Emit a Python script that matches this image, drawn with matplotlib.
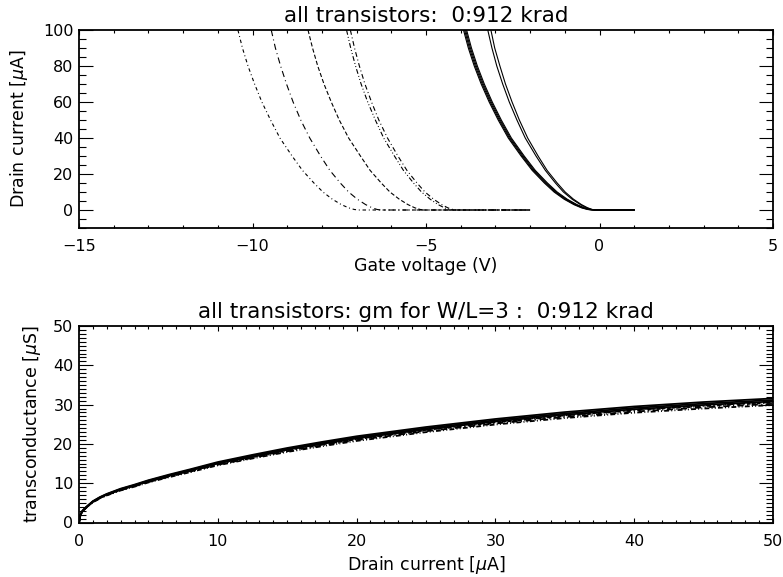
import matplotlib
matplotlib.use("Agg")
import matplotlib.pyplot as plt
from matplotlib.ticker import MultipleLocator

plt.rcParams['font.family'] = ['DejaVu Sans']
plt.rcParams['mathtext.fontset'] = 'dejavusans'
plt.rcParams['lines.scale_dashes'] = False

# ---------------- top panel data: drain current vs gate voltage ----------------
I_top = [100, 90, 80, 70, 60, 50, 40, 30, 22, 15, 10, 6, 3, 1.2, 0.3, 0, 0]

# solid curves (unirradiated); last point = end of sweep at +1 V
v_s1 = [-3.92, -3.78, -3.61, -3.41, -3.18, -2.92, -2.63, -2.26, -1.94, -1.59, -1.31, -1.02, -0.74, -0.52, -0.35, -0.22, 1.0]
v_s2 = [-3.89, -3.75, -3.58, -3.38, -3.15, -2.89, -2.60, -2.23, -1.91, -1.56, -1.28, -0.99, -0.71, -0.49, -0.32, -0.19, 1.0]
v_s3 = [-3.86, -3.72, -3.55, -3.35, -3.12, -2.86, -2.57, -2.20, -1.88, -1.53, -1.25, -0.96, -0.68, -0.46, -0.29, -0.16, 1.0]
v_s4 = [-3.83, -3.69, -3.52, -3.32, -3.09, -2.83, -2.54, -2.17, -1.85, -1.50, -1.22, -0.93, -0.65, -0.43, -0.26, -0.13, 1.0]
v_s5 = [-3.22, -3.10, -2.96, -2.79, -2.60, -2.38, -2.14, -1.83, -1.56, -1.27, -1.04, -0.79, -0.55, -0.37, -0.23, -0.12, 1.0]
v_s6 = [-3.13, -3.02, -2.87, -2.71, -2.52, -2.31, -2.07, -1.77, -1.51, -1.22, -0.99, -0.75, -0.52, -0.34, -0.21, -0.10, 1.0]

# broken-line curves (irradiated); last point = end of sweep at -2 V
v_a = [-10.42, -10.29, -10.13, -9.94, -9.73, -9.48, -9.21, -8.86, -8.56, -8.23, -7.97, -7.70, -7.44, -7.23, -7.07, -6.95, -2.0]
v_b = [-9.46, -9.34, -9.19, -9.02, -8.83, -8.61, -8.35, -8.04, -7.77, -7.47, -7.23, -6.98, -6.74, -6.55, -6.41, -6.30, -2.0]
v_c = [-8.40, -8.27, -8.12, -7.94, -7.73, -7.50, -7.23, -6.89, -6.61, -6.29, -6.04, -5.77, -5.52, -5.32, -5.17, -5.05, -2.0]
v_d = [-7.29, -7.17, -7.03, -6.87, -6.68, -6.46, -6.22, -5.91, -5.65, -5.36, -5.13, -4.88, -4.65, -4.47, -4.33, -4.22, -2.0]
v_e = [-7.18, -7.06, -6.92, -6.76, -6.57, -6.36, -6.11, -5.81, -5.55, -5.26, -5.03, -4.78, -4.55, -4.37, -4.23, -4.12, -2.0]

# ---------------- bottom panel data: transconductance vs drain current ----------------
I_bot = [0, 0.1, 0.25, 0.5, 1, 1.5, 2, 3, 4, 5, 6.5, 8, 10, 12.5, 15, 17.5, 20, 25, 30, 35, 40, 45, 50]
gm_s1 = [0, 1.95, 2.97, 3.90, 5.43, 6.46, 7.28, 8.61, 9.64, 10.76, 12.20, 13.53, 15.38, 17.22, 18.96, 20.50, 21.94, 24.29, 26.34, 28.09, 29.52, 30.65, 31.57]
gm_s2 = [0, 1.92, 2.93, 3.85, 5.36, 6.38, 7.19, 8.50, 9.51, 10.63, 12.04, 13.36, 15.18, 17.00, 18.72, 20.24, 21.66, 23.98, 26.01, 27.73, 29.15, 30.26, 31.17]
gm_s3 = [0, 1.90, 2.90, 3.80, 5.30, 6.30, 7.10, 8.40, 9.40, 10.50, 11.90, 13.20, 15.00, 16.80, 18.50, 20.00, 21.40, 23.70, 25.70, 27.40, 28.80, 29.90, 30.80]
gm_d1 = [0, 1.88, 2.87, 3.76, 5.25, 6.24, 7.03, 8.32, 9.31, 10.40, 11.78, 13.07, 14.85, 16.63, 18.32, 19.80, 21.19, 23.46, 25.44, 27.13, 28.51, 29.60, 30.49]
gm_d2 = [0, 1.86, 2.84, 3.72, 5.19, 6.17, 6.96, 8.23, 9.21, 10.29, 11.66, 12.94, 14.70, 16.46, 18.13, 19.60, 20.97, 23.23, 25.19, 26.85, 28.22, 29.30, 30.18]
gm_d3 = [0, 1.84, 2.81, 3.69, 5.14, 6.11, 6.89, 8.15, 9.12, 10.19, 11.54, 12.80, 14.55, 16.30, 17.95, 19.40, 20.76, 22.99, 24.93, 26.58, 27.94, 29.00, 29.88]
gm_d4 = [0, 1.89, 2.89, 3.78, 5.27, 6.27, 7.06, 8.36, 9.35, 10.45, 11.84, 13.13, 14.93, 16.72, 18.41, 19.90, 21.29, 23.58, 25.57, 27.26, 28.66, 29.75, 30.65]

title_top = "all transistors:  0:912 krad"
title_bot = "all transistors: gm for W/L=3 :  0:912 krad"

# line styles (absolute dash lengths in points)
ls_a = (0, (2.5, 2.0, 0.7, 2.0))
ls_b = (0, (4.5, 2.5, 0.7, 2.5))
ls_c = (0, (3.0, 1.6))
ls_d = (0, (3.5, 1.6, 0.7, 1.6, 0.7, 1.6))
ls_e = (0, (3.5, 2.0, 0.7, 2.0))

fig = plt.figure(figsize=(7.83, 5.77), dpi=100)
ax1 = fig.add_axes([79 / 783, 1 - 228 / 577, 694 / 783, 198 / 577])
ax2 = fig.add_axes([79 / 783, 1 - 522.5 / 577, 694 / 783, 196.5 / 577])

FS = 11.5
FL = 12.5
FT = 15.5
lwc = 0.8

for v in (v_s1, v_s2, v_s3, v_s4, v_s5, v_s6):
    ax1.plot(v, I_top, color='black', lw=lwc, solid_joinstyle='round')
for v, ls in ((v_a, ls_a), (v_b, ls_b), (v_c, ls_c), (v_d, ls_d), (v_e, ls_e)):
    ax1.plot(v, I_top, color='black', lw=lwc, linestyle=ls)

for g in (gm_s1, gm_s2, gm_s3):
    ax2.plot(I_bot, g, color='black', lw=1.3)
for g, ls in ((gm_d1, ls_a), (gm_d2, ls_b), (gm_d3, ls_d), (gm_d4, ls_e)):
    ax2.plot(I_bot, g, color='black', lw=1.3, linestyle=ls)

ax1.set_xlim(-15, 5)
ax1.set_ylim(-10, 100)
ax1.xaxis.set_major_locator(MultipleLocator(5))
ax1.xaxis.set_minor_locator(MultipleLocator(1))
ax1.yaxis.set_major_locator(MultipleLocator(20))
ax1.yaxis.set_minor_locator(MultipleLocator(5))

ax2.set_xlim(0, 50)
ax2.set_ylim(0, 50)
ax2.xaxis.set_major_locator(MultipleLocator(10))
ax2.xaxis.set_minor_locator(MultipleLocator(1))
ax2.yaxis.set_major_locator(MultipleLocator(10))
ax2.yaxis.set_minor_locator(MultipleLocator(1))

for ax in (ax1, ax2):
    for s in ax.spines.values():
        s.set_linewidth(1.3)
        s.set_color('black')
    ax.tick_params(axis='both', which='both', direction='in', top=True, right=True,
                   labelsize=FS, colors='black', width=0.8)
    ax.tick_params(axis='x', which='major', length=3.5, pad=8)
    ax.tick_params(axis='x', which='minor', length=2)
    ax.tick_params(axis='y', which='major', length=10, pad=4)
    ax.tick_params(axis='y', which='minor', length=5)

ax1.set_title(title_top, fontsize=FT, pad=6)
ax1.set_xlabel("Gate voltage (V)", fontsize=FL, labelpad=2)
ax1.set_ylabel(r"Drain current [$\mu$A]", fontsize=FL, labelpad=9)

ax2.set_title(title_bot, fontsize=FT, pad=6)
ax2.set_xlabel(r"Drain current [$\mu$A]", fontsize=FL, labelpad=4)
ax2.set_ylabel(r"transconductance [$\mu$S]", fontsize=FL, labelpad=7)

fig.savefig("out.png", dpi=100)
